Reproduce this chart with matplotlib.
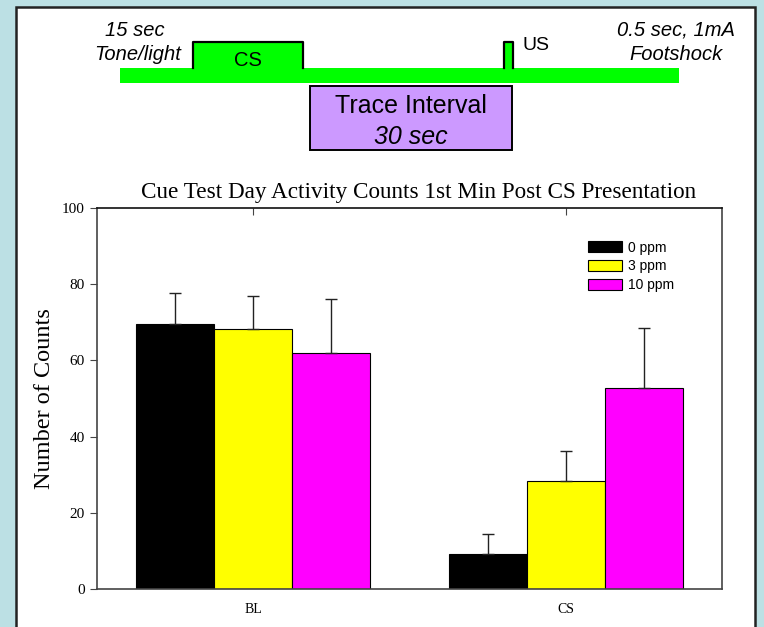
import matplotlib.pyplot as plt
from matplotlib.patches import Rectangle
import numpy as np

# data
categories = ['BL', 'CS']
groups = ['0 ppm', '3 ppm', '10 ppm']
colors = ['#000000', '#ffff00', '#ff00ff']
means = [[69.6, 9.3],
         [68.3, 28.3],
         [61.9, 52.7]]
errs = [[8.2, 5.1],
        [8.7, 8.0],
        [14.1, 15.7]]

W, H = 764, 627
fig = plt.figure(figsize=(W / 100, H / 100), dpi=100)
fig.patch.set_facecolor('#bce0e4')

# overlay in pixel coordinates for panel + schematic
bg = fig.add_axes([0, 0, 1, 1])
bg.set_xlim(0, W)
bg.set_ylim(H, 0)
bg.axis('off')

bg.add_patch(Rectangle((16, 7), 739, 630, facecolor='white', edgecolor='#222222', lw=1.8))

green = '#00ff00'
# baseline bar
bg.add_patch(Rectangle((120, 68), 559, 15, facecolor=green, edgecolor='none'))
# CS pulse
bg.add_patch(Rectangle((193, 42), 110, 27, facecolor=green, edgecolor='none'))
bg.plot([193, 193, 303, 303], [68, 42, 42, 68], color='black', lw=1.6)
# US pulse
bg.add_patch(Rectangle((504, 42), 9, 27, facecolor=green, edgecolor='none'))
bg.plot([504, 504, 513, 513], [68, 42, 42, 68], color='black', lw=1.6)
# trace interval box
bg.add_patch(Rectangle((310, 86), 202, 64, facecolor='#cc99ff', edgecolor='black', lw=1.4))

sans = 'Liberation Sans'
bg.text(248, 61, 'CS', fontsize=14.5, family=sans, ha='center', va='center')
bg.text(523, 46, 'US', fontsize=14, family=sans, ha='left', va='center')
bg.text(135, 30, '15 sec', fontsize=14.5, family=sans, style='italic', ha='center', va='center')
bg.text(138, 55, 'Tone/light', fontsize=14.5, family=sans, style='italic', ha='center', va='center')
bg.text(676, 30, '0.5 sec, 1mA', fontsize=14.5, family=sans, style='italic', ha='center', va='center')
bg.text(676, 55, 'Footshock', fontsize=14.5, family=sans, style='italic', ha='center', va='center')
bg.text(411, 106, 'Trace Interval', fontsize=18, family=sans, ha='center', va='center')
bg.text(411, 137, '30 sec', fontsize=18, family=sans, style='italic', ha='center', va='center')

# bar chart
ax = fig.add_axes([97 / W, 1 - 589 / H, (722 - 97) / W, (589 - 208) / H])
x = np.arange(len(categories))
width = 0.25
for i in range(len(groups)):
    pos = x + (i - 1) * width
    ax.bar(pos, means[i], width, color=colors[i], edgecolor='black', lw=0.8, label=groups[i])
    ax.errorbar(pos, means[i], yerr=[[0] * len(categories), errs[i]], fmt='none',
                ecolor='#222222', elinewidth=1, capsize=4.5, capthick=1)

ax.set_xlim(-0.5, 1.5)
ax.set_ylim(0, 100)
ax.set_yticks(range(0, 101, 20))
ax.set_xticks(x)
ax.set_xticklabels(categories, family='Liberation Serif', fontsize=10)
for lab in ax.get_yticklabels():
    lab.set_family('Liberation Serif')
    lab.set_fontsize(11)
ax.tick_params(axis='x', bottom=False, top=True, direction='in', length=5,
               labelbottom=True, pad=10, color='#444444')
ax.tick_params(axis='y', direction='out', length=5, color='#444444', pad=4)
for s in ax.spines.values():
    s.set_color('#444444')
    s.set_linewidth(1.2)
ax.spines['top'].set_color('#111111')

ax.set_title('Cue Test Day Activity Counts 1st Min Post CS Presentation',
             family='Liberation Serif', fontsize=16.7, pad=7, x=0.514)
ax.set_ylabel('Number of Counts', family='Liberation Serif', fontsize=17.5, labelpad=5)

ax.legend(loc='upper left', bbox_to_anchor=(0.777, 0.929), frameon=False,
          prop={'family': sans, 'size': 10}, handlelength=2.4, handleheight=0.8,
          labelspacing=0.35, handletextpad=0.5, borderaxespad=0)

fig.savefig('out.png', dpi=100, facecolor=fig.get_facecolor())
